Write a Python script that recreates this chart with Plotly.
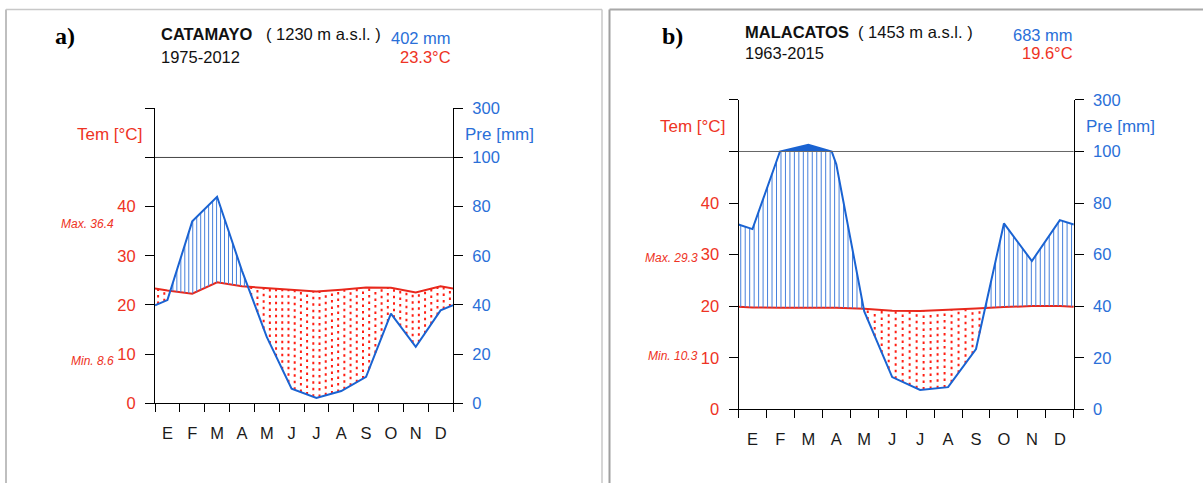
import numpy as np
import plotly.graph_objects as go

W, H = 1203, 492

months = ["E", "F", "M", "A", "M", "J", "J", "A", "S", "O", "N", "D"]
temp_ticks = ["0", "10", "20", "30", "40", "", ""]
prec_ticks = ["0", "20", "40", "60", "80", "100", "300"]

# Panel a: CATAMAYO
a_label = "a)"
a_station = "CATAMAYO"
a_alt = "( 1230 m a.s.l. )"
a_period = "1975-2012"
a_total = "402 mm"
a_mean = "23.3°C"
a_temp = [22.95, 22.3, 24.6, 23.8, 23.4, 23.1, 22.75, 23.1, 23.55, 23.5, 22.55, 23.8]
a_prec = [42, 74, 84, 54, 27, 6, 2.2, 5, 10.8, 36.5, 23, 37.8]
a_tmax = 36.4
a_tmin = 8.6

# Panel b: MALACATOS
b_label = "b)"
b_station = "MALACATOS"
b_alt = "( 1453 m a.s.l. )"
b_period = "1963-2015"
b_total = "683 mm"
b_mean = "19.6°C"
b_temp = [19.76, 19.7, 19.7, 19.7, 19.5, 19.12, 19.05, 19.25, 19.57, 19.83, 20.02, 20.02]
b_prec = [69.9, 100.5, 125.5, 95, 38, 12.5, 7.5, 8.6, 23.4, 72.1, 57.5, 73.4]
b_tmax = 29.3
b_tmin = 10.3

RED = "#e8281c"
RED_TXT = "#ee3324"
BLUE = "#1a63d2"
BLUE_TXT = "#2a6fd8"
HATCH = "#4680dc"
DOTS = "#ff1f14"
FONT = "Liberation Sans"
FS = 16.5

# the page shows the figure 8px down and 476px tall
Y_OFF, Y_H = 8.0, 476.0


def px(x):
    return x / W


def py(y):
    return 1 - (y - Y_OFF) / Y_H


def ext(vals):
    v = list(vals)
    edge = (v[0] + v[-1]) / 2
    x = np.array([0.0] + [i + 0.5 for i in range(12)] + [12.0])
    return x, np.array([edge] + v + [edge], dtype=float)


def ptrans(p):
    p = np.asarray(p, dtype=float)
    return np.where(p <= 100, p / 2, 50 + (p - 100) / 20)


def prec_line(prec):
    x, p = ext(prec)
    xs, ps = [x[0]], [p[0]]
    for i in range(len(x) - 1):
        if (p[i] - 100) * (p[i + 1] - 100) < 0:
            f = (100 - p[i]) / (p[i + 1] - p[i])
            xs.append(x[i] + f * (x[i + 1] - x[i]))
            ps.append(100.0)
        xs.append(x[i + 1])
        ps.append(p[i + 1])
    return np.array(xs), ptrans(ps)


def hatch(temp, prec, step, humid):
    xt, t = ext(temp)
    xp, p = ext(prec)
    xk = np.arange(step / 2, 12, step)
    tk = np.interp(xk, xt, t)
    pk = ptrans(np.interp(xk, xp, p))
    hx, hy = [], []
    for x, tt, pp in zip(xk, tk, pk):
        if humid and pp > tt:
            hx += [x, x, None]
            hy += [tt, min(pp, 50), None]
        if (not humid) and tt > pp:
            hx += [x, x, None]
            hy += [pp, tt, None]
    return hx, hy


fig = go.Figure()


def add_panel(temp, prec, xa, ya, yp):
    # dry season dots
    dx, dy = hatch(temp, prec, 0.25, False)
    fig.add_trace(go.Scatter(x=dx, y=dy, mode="lines", xaxis=xa, yaxis=ya,
                             line=dict(color=DOTS, width=2, dash="2.5px,4px"),
                             hoverinfo="skip", showlegend=False, connectgaps=False))
    # humid season lines
    hx, hy = hatch(temp, prec, 0.16, True)
    fig.add_trace(go.Scatter(x=hx, y=hy, mode="lines", xaxis=xa, yaxis=yp,
                             line=dict(color=HATCH, width=1),
                             hoverinfo="skip", showlegend=False, connectgaps=False))
    # solid fill above 100 mm
    lx, ly = prec_line(prec)
    fig.add_trace(go.Scatter(x=lx, y=np.full(len(lx), 50.0), mode="lines", xaxis=xa, yaxis=yp,
                             line=dict(width=0), hoverinfo="skip", showlegend=False))
    fig.add_trace(go.Scatter(x=lx, y=np.maximum(ly, 50), mode="lines", xaxis=xa, yaxis=yp,
                             line=dict(width=0), fill="tonexty", fillcolor=BLUE,
                             hoverinfo="skip", showlegend=False))
    # temperature line
    xt, t = ext(temp)
    fig.add_trace(go.Scatter(x=xt, y=t, mode="lines", xaxis=xa, yaxis=ya,
                             line=dict(color=RED, width=2), hoverinfo="skip", showlegend=False))
    # precipitation line
    fig.add_trace(go.Scatter(x=lx, y=ly, mode="lines", xaxis=xa, yaxis=yp,
                             line=dict(color=BLUE, width=2), hoverinfo="skip", showlegend=False))


add_panel(a_temp, a_prec, "x", "y", "y3")
add_panel(b_temp, b_prec, "x2", "y2", "y4")

centers = [i + 0.5 for i in range(12)]
bounds = list(range(13))
tvals = [0, 10, 20, 30, 40, 50, 60]


def xaxis_cfg(dom, anchor):
    return dict(domain=dom, anchor=anchor, range=[0, 12], tickmode="array",
                tickvals=centers, ticktext=months, ticks="", showline=True,
                linecolor="black", linewidth=1, showgrid=False, zeroline=False,
                tickfont=dict(family=FONT, size=FS, color="#1a1a1a"),
                ticklabelstandoff=15,
                minor=dict(tickmode="array", tickvals=bounds, ticks="outside",
                           ticklen=8, tickcolor="black", tickwidth=1, showgrid=False))


def yaxis_cfg(dom, anchor, text, color, side, overlay=None):
    d = dict(domain=dom, anchor=anchor, range=[0, 60], tickmode="array",
             tickvals=tvals, ticktext=text, ticks="outside", ticklen=9,
             tickcolor="black", tickwidth=1, showline=True, linecolor="black",
             linewidth=1, showgrid=False, zeroline=False, side=side,
             tickfont=dict(family=FONT, size=FS, color=color),
             ticklabelstandoff=6)
    if overlay:
        d["overlaying"] = overlay
    return d


a_xdom = [px(155), px(453)]
a_ydom = [py(404), py(107.7)]
b_xdom = [px(738.5), px(1073.8)]
b_ydom = [py(410), py(99.3)]

fig.update_layout(
    width=W, height=H, margin=dict(l=0, r=0, t=0, b=0),
    paper_bgcolor="white", plot_bgcolor="rgba(0,0,0,0)",
    showlegend=False,
    font=dict(family=FONT, size=FS),
    xaxis=xaxis_cfg(a_xdom, "y"),
    xaxis2=xaxis_cfg(b_xdom, "y2"),
    yaxis=yaxis_cfg(a_ydom, "x", temp_ticks, RED_TXT, "left"),
    yaxis2=yaxis_cfg(b_ydom, "x2", temp_ticks, RED_TXT, "left"),
    yaxis3=yaxis_cfg(a_ydom, "x", prec_ticks, BLUE_TXT, "right", "y"),
    yaxis4=yaxis_cfg(b_ydom, "x2", prec_ticks, BLUE_TXT, "right", "y2"),
)

TOP = 8.5
shapes = [
    dict(type="line", xref="x", yref="y", x0=0, x1=12, y0=50, y1=50,
         line=dict(color="#444", width=1)),
    dict(type="line", xref="x2", yref="y2", x0=0, x1=12, y0=50, y1=50,
         line=dict(color="#666", width=1)),
    # panel frames
    dict(type="line", xref="paper", yref="paper", x0=px(6), x1=px(6), y0=py(TOP), y1=0,
         line=dict(color="#aaaaaa", width=1.5)),
    dict(type="line", xref="paper", yref="paper", x0=px(6), x1=px(602), y0=py(TOP), y1=py(TOP),
         line=dict(color="#c8c8c8", width=1.5)),
    dict(type="line", xref="paper", yref="paper", x0=px(602), x1=px(602), y0=py(TOP), y1=0,
         line=dict(color="#c8c8c8", width=1.5)),
    dict(type="line", xref="paper", yref="paper", x0=px(609.5), x1=px(609.5), y0=py(TOP), y1=0,
         line=dict(color="#a0a0a0", width=2)),
    dict(type="line", xref="paper", yref="paper", x0=px(609.5), x1=1, y0=py(TOP), y1=py(TOP),
         line=dict(color="#a8a8a8", width=2)),
]
fig.update_layout(shapes=shapes)

ann = []


def txt(text, x, y, anchor, color="#111", size=FS, family=FONT, yref="paper"):
    ann.append(dict(text=text, x=px(x), y=(py(y) if yref == "paper" else y),
                    xref="paper", yref=yref, xanchor=anchor, yanchor="middle",
                    showarrow=False, font=dict(family=family, size=size, color=color)))


# panel a texts
txt("<b>" + a_label + "</b>", 65, 35, "center", "#000", 24, "Liberation Serif")
txt("<b>" + a_station + "</b>", 159, 33.3, "left")
txt(a_alt, 264, 33.5, "left")
txt(a_total, 453, 36.7, "right", BLUE_TXT)
txt(a_period, 158.5, 56.3, "left")
txt(a_mean, 453, 56.3, "right", RED_TXT)
txt("Tem [°C]", 143.5, 134, "right", RED_TXT, 17)
txt("Pre [mm]", 462.5, 134, "left", BLUE_TXT, 17)
txt("<i>Max. %.1f</i>" % a_tmax, 116, a_tmax, "right", RED_TXT, 12, yref="y")
txt("<i>Min. %.1f</i>" % a_tmin, 116, a_tmin, "right", RED_TXT, 12, yref="y")

# panel b texts
txt("<b>" + b_label + "</b>", 672, 35, "center", "#000", 24, "Liberation Serif")
txt("<b>" + b_station + "</b>", 742.5, 31.3, "left")
txt(b_alt, 856, 31.5, "left")
txt(b_total, 1074.5, 34, "right", BLUE_TXT)
txt(b_period, 742.5, 52.5, "left")
txt(b_mean, 1074.5, 52.5, "right", RED_TXT)
txt("Tem [°C]", 727, 126, "right", RED_TXT, 17)
txt("Pre [mm]", 1084, 126, "left", BLUE_TXT, 17)
txt("<i>Max. %.1f</i>" % b_tmax, 700, b_tmax, "right", RED_TXT, 12, yref="y2")
txt("<i>Min. %.1f</i>" % b_tmin, 700, b_tmin, "right", RED_TXT, 12, yref="y2")

fig.update_layout(annotations=ann)

fig.write_html("out.html")
